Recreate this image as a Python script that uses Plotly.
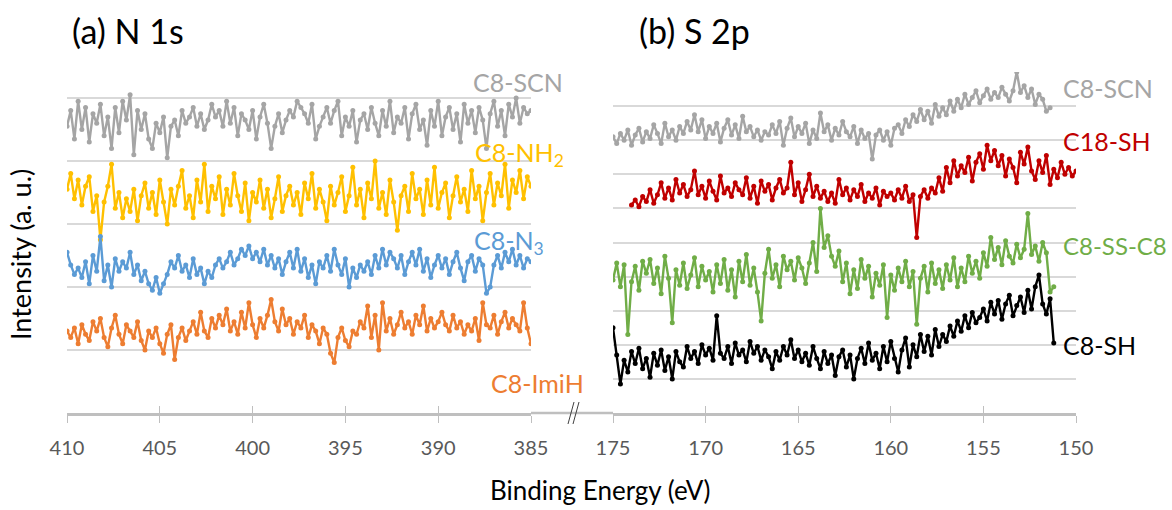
import numpy as np
import plotly.graph_objects as go

# ---------------- data ----------------
# N 1s panel: binding energy grid 410 -> 385 eV, step 0.2 eV
N1S_START, N1S_STOP, STEP = 410.0, 385.0, 0.2
n1s_x = np.round(np.arange(N1S_START, N1S_STOP - 1e-9, -STEP), 2)

n1s_scn = [4.55, 4.80, 4.35, 4.95, 4.50, 4.85, 4.30, 4.75, 4.60, 4.90,
           4.40, 4.70, 4.20, 4.85, 4.45, 4.95, 4.65, 5.05, 4.10, 4.80,
           4.50, 4.75, 4.35, 4.20, 4.60, 4.45, 4.70, 4.05, 4.55, 4.65,
           4.40, 4.80, 4.60, 4.70, 4.85, 4.55, 4.75, 4.50, 4.65, 4.90,
           4.70, 4.80, 4.55, 4.95, 4.60, 4.85, 4.40, 4.75, 4.65, 4.50,
           4.80, 4.35, 4.70, 4.90, 4.60, 4.20, 4.55, 4.75, 4.45, 4.65,
           4.80, 4.70, 4.95, 4.85, 4.75, 4.60, 4.90, 4.35, 4.55, 4.70,
           4.85, 4.60, 4.80, 4.95, 4.40, 4.70, 4.55, 4.80, 4.30, 4.65,
           4.75, 4.50, 4.85, 4.60, 4.40, 4.80, 4.55, 4.95, 4.45, 4.70,
           4.60, 4.85, 4.35, 4.75, 4.90, 4.50, 4.65, 4.25, 4.80, 4.55,
           4.95, 4.40, 4.70, 4.85, 4.50, 4.75, 4.30, 4.90, 4.60, 4.80,
           4.45, 4.85, 4.65, 4.20, 4.75, 4.95, 4.55, 4.80, 4.40, 4.90,
           4.70, 5.00, 4.60, 4.85, 4.75, 4.80]

n1s_nh2 = [3.55, 3.80, 3.40, 3.70, 3.30, 3.60, 3.75, 3.20, 3.45, 2.75,
           3.35, 3.60, 3.95, 3.25, 3.50, 3.10, 3.40, 3.20, 3.55, 3.05,
           3.45, 3.65, 3.25, 3.50, 3.15, 3.70, 3.35, 3.00, 3.55, 3.30,
           3.60, 3.85, 3.25, 3.45, 3.10, 3.70, 3.35, 3.95, 3.20, 3.60,
           3.40, 3.75, 3.15, 3.55, 3.30, 3.80, 3.45, 3.20, 3.65, 3.05,
           3.50, 3.35, 3.70, 3.25, 3.55, 3.10, 3.40, 3.75, 3.20, 3.45,
           3.60, 3.30, 3.50, 3.15, 3.65, 3.40, 3.80, 3.25, 3.55, 3.35,
           3.05, 3.60, 3.30, 3.50, 3.75, 3.20, 3.45, 3.90, 3.30, 3.55,
           3.10, 3.65, 3.40, 4.00, 3.25, 3.50, 3.15, 3.70, 3.35, 2.90,
           3.45, 3.60, 3.20, 3.80, 3.40, 3.55, 3.15, 3.70, 3.30, 3.90,
           3.25, 3.50, 3.65, 3.10, 3.45, 3.75, 3.35, 3.55, 3.20, 3.85,
           3.40, 3.60, 3.05, 3.50, 3.80, 3.30, 3.65, 3.45, 3.95, 3.25,
           3.70, 3.50, 3.85, 3.40, 3.75, 3.60]

n1s_n3 = [2.55, 2.35, 2.20, 2.30, 2.15, 2.40, 2.05, 2.50, 2.25, 2.80,
          2.10, 2.35, 2.00, 2.45, 2.25, 2.40, 2.30, 2.55, 2.20, 2.35,
          2.10, 2.25, 2.05, 1.95, 2.15, 1.90, 2.05, 2.20, 2.40, 2.30,
          2.50, 2.25, 2.35, 2.15, 2.45, 2.20, 2.30, 2.05, 2.25, 2.15,
          2.35, 2.45, 2.30, 2.40, 2.55, 2.35, 2.45, 2.60, 2.50, 2.65,
          2.45, 2.55, 2.40, 2.60, 2.35, 2.50, 2.30, 2.45, 2.20, 2.40,
          2.55, 2.30, 2.60, 2.25, 2.45, 2.15, 2.35, 2.05, 2.40, 2.30,
          2.50, 2.25, 2.60, 2.35, 2.20, 2.45, 2.00, 2.30, 2.15, 2.35,
          2.25, 2.40, 2.20, 2.50, 2.30, 2.60, 2.35, 2.55, 2.45, 2.30,
          2.50, 2.20, 2.40, 2.55, 2.35, 2.60, 2.25, 2.45, 2.15, 2.35,
          2.50, 2.30, 2.45, 2.20, 2.40, 2.55, 2.30, 2.10, 2.40, 2.50,
          2.25, 2.45, 2.35, 1.90, 2.00, 2.35, 2.50, 2.30, 2.55, 2.40,
          2.60, 2.35, 2.50, 2.30, 2.45, 2.40]

n1s_imih = [1.30, 1.20, 1.35, 1.10, 1.40, 1.25, 1.15, 1.45, 1.30, 1.50,
            1.20, 1.05, 1.35, 1.55, 1.25, 1.10, 1.40, 1.30, 1.20, 1.45,
            1.15, 1.00, 1.30, 1.20, 1.35, 1.10, 0.95, 1.25, 1.40, 0.85,
            1.20, 1.35, 1.15, 1.30, 1.45, 1.25, 1.60, 1.30, 1.20, 1.50,
            1.35, 1.55, 1.40, 1.65, 1.30, 1.45, 1.25, 1.60, 1.35, 1.75,
            1.40, 1.20, 1.50, 1.35, 1.55, 1.80, 1.45, 1.30, 1.65, 1.40,
            1.50, 1.25, 1.45, 1.35, 1.55, 1.20, 1.40, 1.30, 1.10, 1.35,
            1.25, 0.95, 0.80, 1.20, 1.35, 1.15, 1.05, 1.30, 1.25, 1.45,
            1.35, 1.70, 1.20, 1.55, 1.00, 1.75, 1.30, 1.50, 1.25, 1.40,
            1.60, 1.35, 1.45, 1.25, 1.55, 1.40, 1.70, 1.30, 1.50, 1.35,
            1.45, 1.60, 1.40, 1.30, 1.55, 1.35, 1.45, 1.25, 1.40, 1.30,
            1.50, 1.15, 1.75, 1.40, 1.35, 1.55, 1.25, 1.45, 1.60, 1.35,
            1.50, 1.40, 1.30, 1.75, 1.35, 1.10]

# S 2p panel: start energies of each scan, step 0.2 eV
s2p_scn = [8.10, 7.90, 8.20, 8.00, 8.30, 7.85, 8.15, 8.35, 7.95, 8.25,
           8.05, 8.45, 8.20, 7.90, 8.50, 8.10, 8.30, 8.00, 8.40, 8.20,
           8.55, 8.30, 8.75, 8.25, 8.60, 8.05, 8.40, 8.20, 8.50, 7.95,
           8.35, 8.60, 8.15, 8.45, 8.05, 8.70, 8.25, 8.40, 8.10, 8.30,
           8.00, 8.25, 8.15, 8.45, 8.20, 8.55, 7.85, 8.35, 8.65, 8.10,
           8.40, 8.20, 8.50, 7.90, 8.30, 8.05, 8.80, 8.25, 8.45, 8.00,
           8.35, 8.15, 8.55, 8.25, 8.10, 8.40, 7.90, 8.30, 8.05, 8.20,
           7.45, 8.15, 8.30, 8.00, 8.25, 7.85, 8.35, 8.45, 8.20, 8.60,
           8.40, 8.75, 8.55, 8.90, 8.60, 8.85, 8.50, 9.05, 8.70, 8.95,
           8.75, 9.15, 8.85, 9.20, 8.95, 9.35, 9.05, 9.25, 9.45, 9.10,
           9.30, 9.50, 9.20, 9.40, 9.25, 9.55, 9.35, 9.15, 9.45, 10.00,
           9.40, 9.60, 9.25, 9.50, 9.05, 9.35, 9.20, 8.85, 8.95]

s2p_c18sh = [6.10, 6.25, 6.05, 6.35, 6.20, 6.55, 6.15, 6.40, 6.75, 6.30,
             6.60, 6.25, 6.85, 6.45, 6.70, 6.35, 6.55, 7.10, 6.40, 6.65,
             6.30, 6.80, 6.50, 6.25, 6.95, 6.45, 6.60, 6.35, 6.75, 6.55,
             6.40, 6.90, 6.30, 6.65, 6.15, 6.80, 6.50, 6.70, 6.25, 6.60,
             6.85, 6.45, 6.60, 7.35, 6.40, 6.75, 6.20, 6.55, 7.00, 6.35,
             6.65, 6.30, 6.50, 6.20, 6.45, 6.15, 6.85, 6.40, 6.60, 6.25,
             6.55, 6.35, 6.70, 6.20, 6.45, 6.30, 6.60, 6.10, 6.50, 6.35,
             6.45, 6.25, 6.55, 6.30, 6.65, 6.20, 6.40, 5.15, 6.35, 6.55,
             6.30, 6.60, 6.45, 6.90, 6.50, 7.20, 6.75, 7.40, 6.95, 7.25,
             7.05, 7.50, 6.80, 7.35, 7.60, 7.15, 7.85, 7.40, 7.70, 7.25,
             7.55, 6.95, 7.45, 7.20, 6.75, 7.65, 7.30, 7.80, 7.10, 6.85,
             7.40, 7.05, 7.55, 6.70, 7.15, 6.90, 7.35, 7.00, 7.20, 6.95, 7.10]

s2p_ssc8 = [3.90, 4.40, 3.70, 4.35, 2.30, 3.85, 4.30, 3.60, 4.45, 4.10,
            4.50, 3.80, 4.25, 3.50, 4.60, 3.95, 2.65, 4.20, 3.75, 4.40,
            3.65, 4.05, 4.55, 3.70, 4.30, 3.90, 4.15, 3.55, 4.35, 3.80,
            4.50, 3.60, 4.20, 3.40, 4.45, 3.85, 4.65, 3.75, 4.25, 3.55,
            2.70, 4.10, 4.80, 3.95, 4.35, 3.70, 4.60, 4.20, 4.45, 3.90,
            4.55, 4.25, 3.80, 4.40, 5.00, 4.15, 6.00, 4.85, 5.20, 4.60,
            4.30, 4.75, 3.85, 4.40, 3.50, 4.20, 3.65, 4.50, 3.95, 4.30,
            3.40, 4.10, 3.75, 4.35, 2.80, 4.05, 3.60, 4.25, 3.85, 4.45,
            3.70, 4.15, 2.60, 3.95, 4.30, 3.55, 4.40, 3.80, 4.20, 3.65,
            4.35, 3.90, 4.55, 3.70, 4.25, 3.85, 4.60, 4.10, 4.45, 3.95,
            4.70, 4.30, 5.15, 4.50, 4.85, 4.35, 5.05, 4.60, 4.40, 4.95,
            4.55, 4.80, 5.85, 4.65, 4.90, 4.45, 5.00, 4.70, 3.55, 3.70]

s2p_c8sh = [2.50, 1.70, 0.85, 1.55, 1.20, 1.80, 1.45, 1.90, 1.30, 1.60,
            1.05, 1.75, 1.40, 1.85, 1.25, 1.65, 1.00, 1.80, 1.50, 1.35,
            1.95, 1.60, 1.80, 1.45, 2.00, 1.70, 1.90, 1.55, 2.85, 1.75,
            1.60, 1.95, 1.45, 2.05, 1.70, 1.85, 1.50, 2.10, 1.75, 1.95,
            1.55, 1.85, 1.65, 1.30, 1.80, 1.55, 1.95, 1.70, 2.15, 1.60,
            1.85, 1.50, 1.75, 1.40, 1.95, 1.60, 1.30, 1.80, 1.45, 1.70,
            1.10, 1.65, 1.85, 1.35, 1.70, 1.00, 1.60, 1.90, 1.45, 2.05,
            1.55, 1.75, 1.30, 1.95, 1.50, 2.10, 1.60, 1.20, 1.85, 2.20,
            1.35, 2.00, 1.65, 2.30, 1.80, 2.25, 1.70, 2.45, 1.95, 2.30,
            2.10, 2.55, 2.25, 2.70, 2.40, 2.85, 2.50, 2.95, 2.65, 2.80,
            3.05, 2.70, 3.25, 2.90, 3.30, 2.75, 3.20, 3.45, 2.85, 3.15,
            3.40, 2.95, 3.60, 3.05, 3.70, 4.05, 3.20, 2.90, 3.35, 2.05]

s2p_start = {"scn": 175.0, "c18sh": 174.0, "ssc8": 175.0, "c8sh": 175.0}

n1s_ticks = [410, 405, 400, 395, 390, 385]
s2p_ticks = [175, 170, 165, 160, 155, 150]


def grid(start, n):
    return np.round(start - STEP * np.arange(n), 2)


# ---------------- figure ----------------
W, H = 1172, 510
FONT = "Lato"
GRAY_TXT = "#595959"
AXC = "#BFBFBF"
GRIDC = "#D9D9D9"

COL = {"scn": "#A5A5A5", "nh2": "#FFC000", "n3": "#5B9BD5", "imih": "#ED7D31",
       "c18sh": "#C00000", "ssc8": "#70AD47", "c8sh": "#000000"}

fig = go.Figure()


def add(x, y, color, xa, ya):
    fig.add_trace(go.Scatter(x=x, y=y, mode="lines+markers", xaxis=xa, yaxis=ya,
                             line=dict(color=color, width=2.4),
                             marker=dict(color=color, size=5),
                             showlegend=False, hoverinfo="x+y"))


add(n1s_x, n1s_scn, COL["scn"], "x", "y")
add(n1s_x, n1s_nh2, COL["nh2"], "x", "y")
add(n1s_x, n1s_n3, COL["n3"], "x", "y")
add(n1s_x, n1s_imih, COL["imih"], "x", "y")
add(grid(s2p_start["scn"], len(s2p_scn)), s2p_scn, COL["scn"], "x2", "y2")
add(grid(s2p_start["c18sh"], len(s2p_c18sh)), s2p_c18sh, COL["c18sh"], "x2", "y2")
add(grid(s2p_start["ssc8"], len(s2p_ssc8)), s2p_ssc8, COL["ssc8"], "x2", "y2")
add(grid(s2p_start["c8sh"], len(s2p_c8sh)), s2p_c8sh, COL["c8sh"], "x2", "y2")


# pixel geometry
def px(x):
    return x / W


def py(y):
    return 1 - y / H


X1 = [px(67), px(531)]
X2 = [px(613), px(1076)]
YD = [py(413), py(72)]
left_top = (413 - 72) / 63.0

xcommon = dict(showgrid=False, zeroline=False, showline=True, linecolor=AXC, linewidth=2.5,
               ticks="outside", ticklen=7, tickwidth=1.2, tickcolor=AXC, automargin=False,
               tickfont=dict(family=FONT, size=20, color=GRAY_TXT), ticklabelstandoff=8)
xin = dict(showgrid=False, zeroline=False, showline=False, ticks="inside", ticklen=7,
           tickwidth=1.2, tickcolor=AXC, showticklabels=False, automargin=False)
ycommon = dict(showgrid=True, gridcolor=GRIDC, gridwidth=1.5, zeroline=False, automargin=False,
               showline=False, showticklabels=False, ticks="", dtick=1, tick0=0)

fig.update_layout(
    template="none",
    width=W, height=H, margin=dict(l=0, r=0, t=0, b=0, pad=0, autoexpand=False),
    paper_bgcolor="white", plot_bgcolor="white",
    xaxis=dict(domain=X1, range=[410, 385], tickvals=n1s_ticks, anchor="y", **xcommon),
    xaxis2=dict(domain=X2, range=[175, 150], tickvals=s2p_ticks, anchor="y2", **xcommon),
    xaxis3=dict(overlaying="x", matches="x", anchor="y", tickvals=n1s_ticks, **xin),
    xaxis4=dict(overlaying="x2", matches="x2", anchor="y2", tickvals=s2p_ticks, **xin),
    yaxis=dict(domain=YD, range=[0, left_top], anchor="x", **ycommon),
    yaxis2=dict(domain=YD, range=[0, 10], anchor="x2", **ycommon),
)
# invisible traces to activate the overlay tick axes
fig.add_trace(go.Scatter(x=[410], y=[None], xaxis="x3", yaxis="y", showlegend=False, hoverinfo="skip"))
fig.add_trace(go.Scatter(x=[175], y=[None], xaxis="x4", yaxis="y2", showlegend=False, hoverinfo="skip"))

# axis bridge and break mark
fig.add_shape(type="line", xref="paper", yref="paper", x0=px(531), x1=px(613),
              y0=py(413), y1=py(413), line=dict(color=AXC, width=2.5))
for dx in (0, 5):
    fig.add_shape(type="line", xref="paper", yref="paper",
                  x0=px(568 + dx), y0=py(424), x1=px(574 + dx), y1=py(402),
                  line=dict(color="#404040", width=1))


def ann(text, x, y, size, color, xanchor="left", textangle=0):
    fig.add_annotation(text=text, x=px(x), y=py(y), xref="paper", yref="paper",
                       xanchor=xanchor, yanchor="middle", showarrow=False,
                       textangle=textangle,
                       font=dict(family=FONT, size=size, color=color))


ann("(a) N 1s", 70, 30, 34, "black")
ann("(b) S 2p", 637, 30, 34, "black")
ann("Intensity (a. u.)", 20, 255, 27, "black", xanchor="center", textangle=-90)
ann("Binding Energy (eV)", 600, 490, 26, "black", xanchor="center")

ann("C8-SCN", 565, 82, 25, COL["scn"], xanchor="right")
ann("C8-NH<sub>2</sub>", 566, 154, 25, COL["nh2"], xanchor="right")
ann("C8-N<sub>3</sub>", 546, 242, 25, COL["n3"], xanchor="right")
ann("C8-ImiH", 586, 383, 25, COL["imih"], xanchor="right")
ann("C8-SCN", 1061, 88, 25, COL["scn"])
ann("C18-SH", 1061, 141, 25, COL["c18sh"])
ann("C8-SS-C8", 1169, 245, 24, COL["ssc8"], xanchor="right")
ann("C8-SH", 1061, 345, 25, COL["c8sh"])

fig.write_html("out.html", config={"displayModeBar": False},
               post_script="document.body.style.margin='0px';"
                           "document.body.style.overflow='hidden';")
